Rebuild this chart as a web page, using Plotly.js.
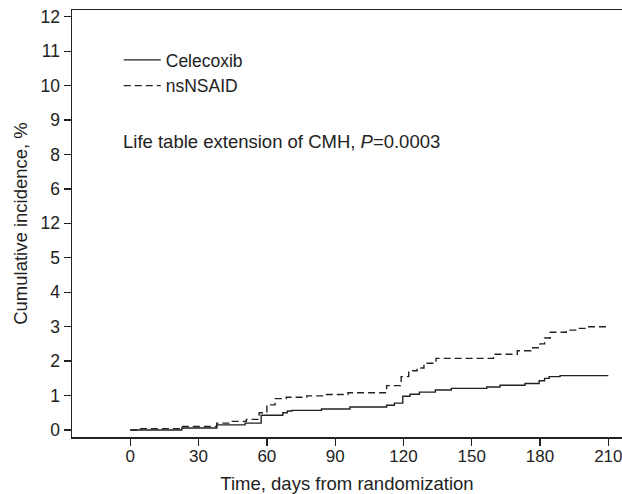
<!DOCTYPE html>
<html>
<head>
<meta charset="utf-8">
<script src="https://cdn.plot.ly/plotly-3.0.1.min.js"></script>
<style>html,body{margin:0;padding:0;background:#fff;}#chart{width:622px;height:494px;}</style>
</head>
<body>
<div id="chart"></div>
<script>
// Celecoxib cumulative incidence (step function)
const celecoxibDays = [0, 22.6, 38, 50.4, 57.5, 67, 69, 71, 84, 96.5, 112.6, 116, 119.7, 122.9, 127, 134, 141, 156.6, 162.4, 173.4, 179.6, 182, 184, 188.8, 210];
const celecoxibPct  = [0, 0.06, 0.15, 0.2, 0.43, 0.5, 0.55, 0.57, 0.61, 0.67, 0.72, 0.78, 0.98, 1.04, 1.1, 1.16, 1.21, 1.25, 1.3, 1.35, 1.43, 1.5, 1.55, 1.58, 1.58];
// nsNSAID cumulative incidence (step function)
const nsnsaidDays = [0, 4, 22, 38, 44, 51, 56.6, 60, 63.6, 68.5, 77.5, 85, 95.6, 112.6, 119, 122.3, 126, 129, 134.3, 159.5, 170, 176, 180, 182, 184.5, 191.5, 196, 201, 209];
const nsnsaidPct  = [0, 0.04, 0.1, 0.2, 0.25, 0.31, 0.5, 0.73, 0.91, 0.95, 0.99, 1.03, 1.08, 1.29, 1.55, 1.72, 1.8, 1.94, 2.08, 2.2, 2.3, 2.39, 2.5, 2.67, 2.84, 2.9, 2.95, 3.0, 3.0];

const xTickVals = [0, 30, 60, 90, 120, 150, 180, 210];
const yTickVals = [0, 1, 2, 3, 4, 5, 6, 7, 8, 9, 10, 11, 12];
const yTickText = ["0", "1", "2", "3", "4", "5", "12", "6", "8", "9", "10", "11", "12"];

const seriesNames = ["Celecoxib", "nsNSAID"];
const annotationText = "Life table extension of CMH, <i>P</i>=0.0003";
const xTitle = "Time, days from randomization";
const yTitle = "Cumulative incidence, %";

const FONT = "Liberation Sans, Arial, Helvetica, sans-serif";
const INK = "#222222";

const traces = [
  {x: celecoxibDays, y: celecoxibPct, name: seriesNames[0], mode: "lines",
   line: {shape: "hv", color: INK, width: 1.4}},
  {x: nsnsaidDays, y: nsnsaidPct, name: seriesNames[1], mode: "lines",
   line: {shape: "hv", color: INK, width: 1.4, dash: "7px,4px"}}
];

const layout = {
  width: 622, height: 494,
  margin: {l: 72, r: 0, t: 10, b: 57, pad: 0},
  paper_bgcolor: "#fff", plot_bgcolor: "#fff",
  font: {family: FONT, size: 17, color: INK},
  showlegend: true,
  legend: {x: 0.085, y: 0.925, xanchor: "left", yanchor: "top",
           font: {family: FONT, size: 17.5, color: INK}, bgcolor: "rgba(0,0,0,0)",
           tracegroupgap: 0, itemwidth: 37},
  xaxis: {
    range: [-25.6, 216], tickvals: xTickVals, ticks: "outside", ticklen: 7,
    tickwidth: 1.3, tickcolor: INK, showline: true, linecolor: INK, linewidth: 1.5,
    mirror: true, showgrid: false, zeroline: false,
    ticklabeloverflow: "allow", ticklabelstandoff: -4,
    tickfont: {family: FONT, size: 17, color: INK},
    title: {text: xTitle, font: {family: FONT, size: 18.5, color: INK}, standoff: 14}
  },
  yaxis: {
    range: [-0.203, 12.195], tickvals: yTickVals, ticktext: yTickText, ticks: "outside",
    ticklen: 7, tickwidth: 1.3, tickcolor: INK, showline: true, linecolor: INK,
    linewidth: 1.5, showgrid: false, zeroline: false,
    tickfont: {family: FONT, size: 17.5, color: INK},
    title: {text: yTitle, font: {family: FONT, size: 18.5, color: INK}, standoff: 8}
  },
  annotations: [{
    text: annotationText, xref: "paper", yref: "paper", x: 0.089, y: 0.693,
    xanchor: "left", yanchor: "middle", showarrow: false,
    font: {family: FONT, size: 18.5, color: INK}
  }]
};

Plotly.newPlot("chart", traces, layout, {displayModeBar: false, staticPlot: true});
</script>
</body>
</html>
